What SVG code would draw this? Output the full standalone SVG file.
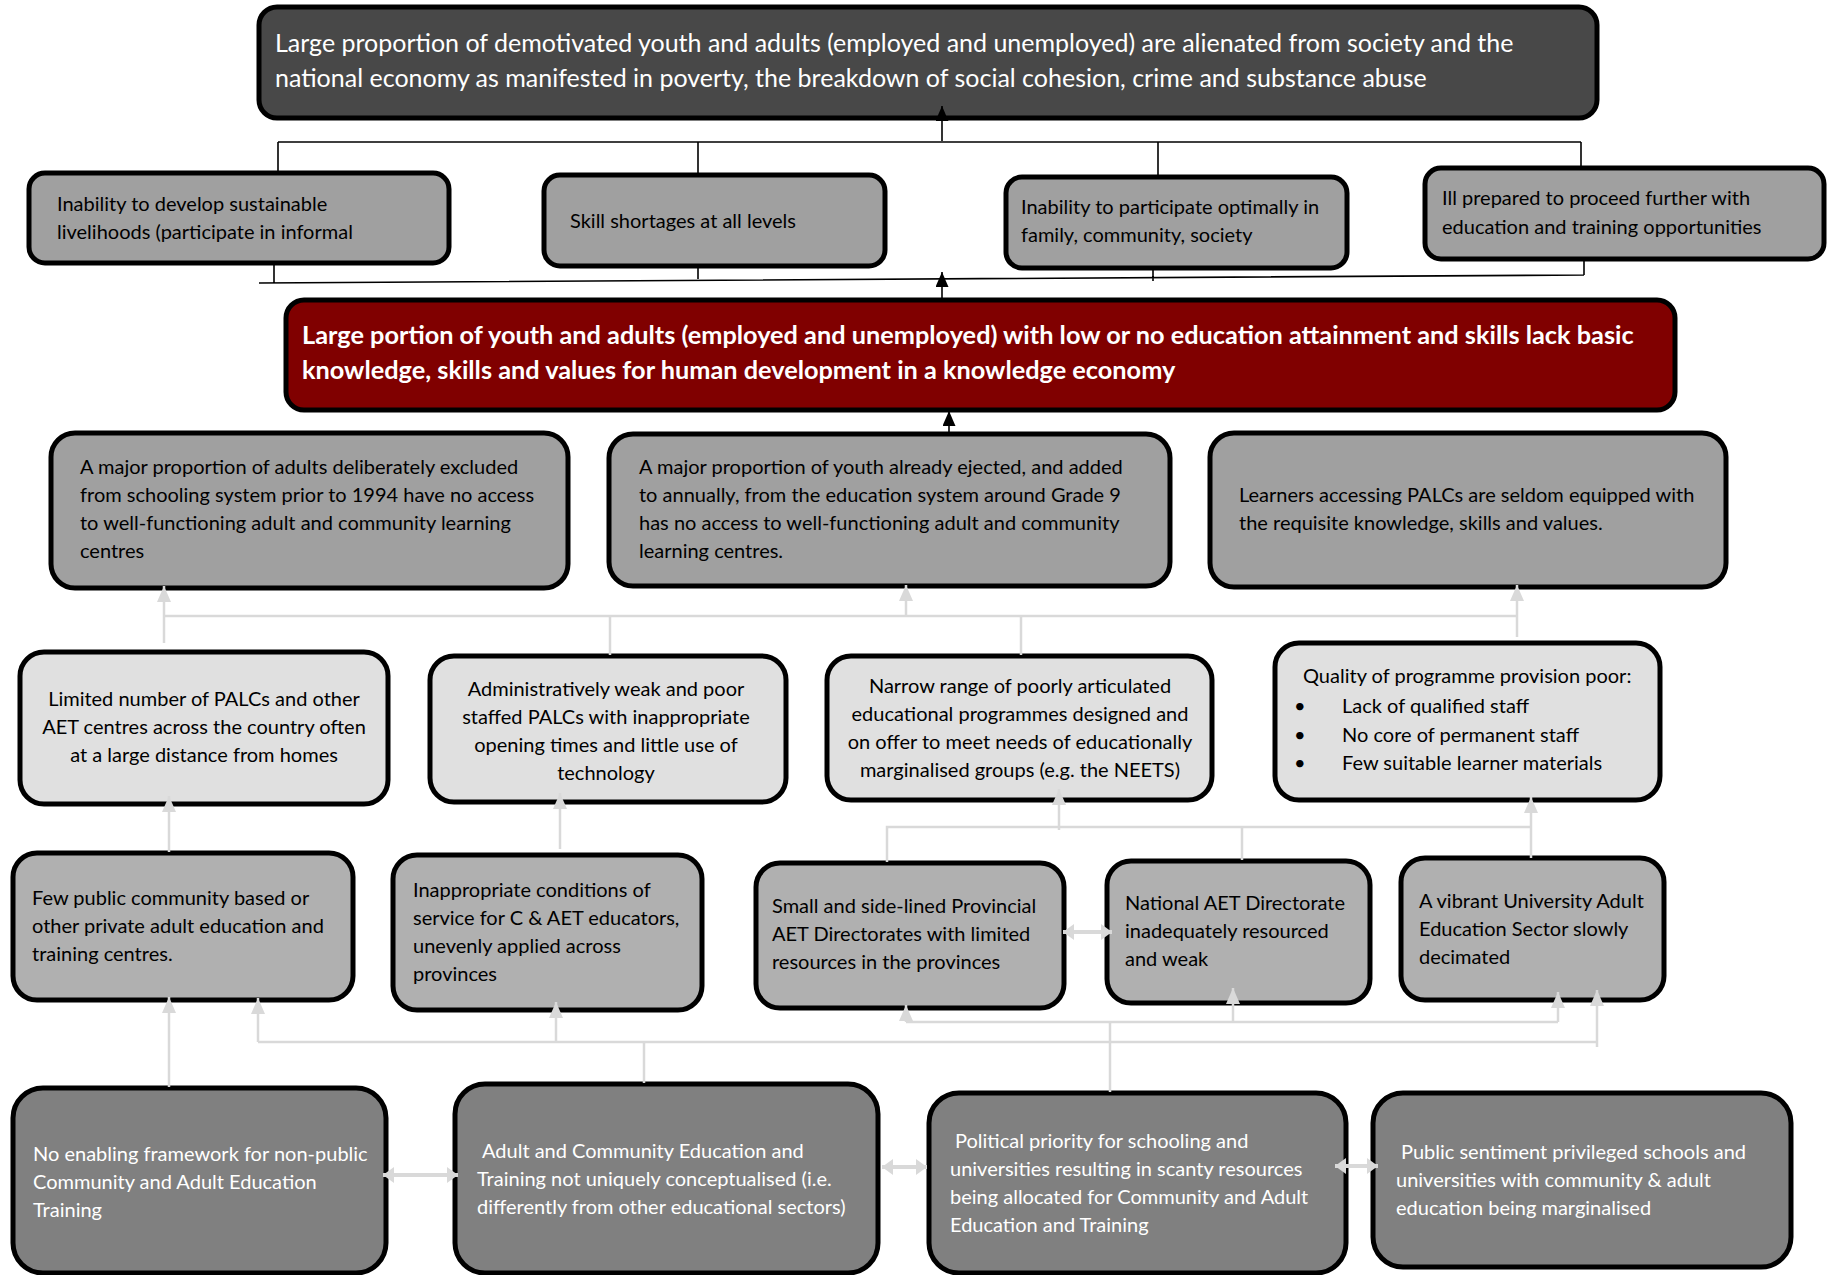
<svg xmlns="http://www.w3.org/2000/svg" width="1828" height="1275" viewBox="0 0 1828 1275">
<style>
.box{stroke:#000;stroke-width:5}
.dk{fill:#484848}.rd{fill:#800000}.g1{fill:#a0a0a0}.g2{fill:#e0e0e0}.g3{fill:#b0b0b0}.g4{fill:#808080}
text{font-family:Lato,"Liberation Sans",sans-serif;font-size:20px;fill:#000}
.w{fill:#fff}
.t1{font-size:25px}
.b{font-size:25.3px;font-weight:bold}
.c{text-anchor:middle}
.bl{stroke:#000;stroke-width:1.6;fill:none}
.gl{stroke:#d9d9d9;stroke-width:2.5;fill:none}
.dbl{stroke:#d9d9d9;stroke-width:4;fill:none}
</style>
<defs>
<marker id="ab" viewBox="0 0 15 13" refX="15" refY="6.5" markerWidth="15" markerHeight="13" markerUnits="userSpaceOnUse" orient="auto"><path d="M0,0L15,6.5L0,13z" fill="#000"/></marker>
<marker id="ag" viewBox="0 0 16 14" refX="16" refY="7" markerWidth="16" markerHeight="14" markerUnits="userSpaceOnUse" orient="auto"><path d="M0,0L16,7L0,14z" fill="#d9d9d9"/></marker>
<marker id="ad" viewBox="0 0 11 16" refX="11" refY="8" markerWidth="11" markerHeight="16" markerUnits="userSpaceOnUse" orient="auto-start-reverse"><path d="M0,0L11,8L0,16z" fill="#d9d9d9"/></marker>
</defs>

<g id="n-top"><rect class="box dk" x="259" y="7" width="1338" height="111" rx="18"/>
<text class="w t1" x="275" y="52">Large proportion of demotivated youth and adults (employed and unemployed) are alienated from society and the</text>
<text class="w t1" x="275" y="87">national economy as manifested in poverty, the breakdown of social cohesion, crime and substance abuse</text></g>

<g id="n-a"><rect class="box g1" x="29" y="173" width="420" height="90" rx="16"/>
<text x="57" y="211">Inability to develop sustainable</text><text x="57" y="239">livelihoods (participate in informal</text></g>
<g id="n-b"><rect class="box g1" x="544" y="175" width="341" height="91" rx="16"/>
<text x="570" y="228">Skill shortages at all levels</text></g>
<g id="n-c"><rect class="box g1" x="1006" y="177" width="341" height="91" rx="16"/>
<text x="1021" y="214">Inability to participate optimally in</text><text x="1021" y="242">family, community, society</text></g>
<g id="n-d"><rect class="box g1" x="1425" y="168" width="399" height="91" rx="16"/>
<text x="1442" y="205">Ill prepared to proceed further with</text><text x="1442" y="234">education and training opportunities</text></g>

<g id="n-core"><rect class="box rd" x="286" y="300" width="1389" height="110" rx="18"/>
<text class="w b" x="302" y="344">Large portion of youth and adults (employed and unemployed) with low or no education attainment and skills lack basic</text>
<text class="w b" x="302" y="379">knowledge, skills and values for human development in a knowledge economy</text></g>

<g id="n-e"><rect class="box g1" x="51" y="433" width="517" height="155" rx="24"/>
<text x="80" y="474">A major proportion of adults deliberately excluded</text><text x="80" y="502">from schooling system prior to 1994 have no access</text><text x="80" y="530">to well-functioning adult and community learning</text><text x="80" y="558">centres</text></g>
<g id="n-f"><rect class="box g1" x="609" y="434" width="561" height="152" rx="24"/>
<text x="639" y="474">A major proportion of youth already ejected, and added</text><text x="639" y="502">to annually, from the education system around Grade 9</text><text x="639" y="530">has no access to well-functioning adult and community</text><text x="639" y="558">learning centres.</text></g>
<g id="n-g"><rect class="box g1" x="1210" y="433" width="516" height="154" rx="24"/>
<text x="1239" y="502">Learners accessing PALCs are seldom equipped with</text><text x="1239" y="530">the requisite knowledge, skills and values.</text></g>

<g id="n-h"><rect class="box g2" x="20" y="652" width="368" height="152" rx="24"/>
<text class="c" x="204" y="706">Limited number of PALCs and other</text><text class="c" x="204" y="734">AET centres across the country often</text><text class="c" x="204" y="762">at a large distance from homes</text></g>
<g id="n-i"><rect class="box g2" x="430" y="656" width="356" height="146" rx="24"/>
<text class="c" x="606" y="696">Administratively weak and poor</text><text class="c" x="606" y="724">staffed PALCs with inappropriate</text><text class="c" x="606" y="752">opening times and little use of</text><text class="c" x="606" y="780">technology</text></g>
<g id="n-j"><rect class="box g2" x="827" y="656" width="385" height="144" rx="24"/>
<text class="c" x="1020" y="693">Narrow range of poorly articulated</text><text class="c" x="1020" y="721">educational programmes designed and</text><text class="c" x="1020" y="749">on offer to meet needs of educationally</text><text class="c" x="1020" y="777">marginalised groups (e.g. the NEETS)</text></g>
<g id="n-k"><rect class="box g2" x="1275" y="643" width="385" height="157" rx="24"/>
<text x="1303" y="683">Quality of programme provision poor:</text>
<text x="1294" y="713">•</text><text x="1342" y="713">Lack of qualified staff</text>
<text x="1294" y="742">•</text><text x="1342" y="742">No core of permanent staff</text>
<text x="1294" y="770">•</text><text x="1342" y="770">Few suitable learner materials</text></g>

<g id="n-l"><rect class="box g3" x="13" y="853" width="340" height="147" rx="24"/>
<text x="32" y="905">Few public community based or</text><text x="32" y="933">other private adult education and</text><text x="32" y="961">training centres.</text></g>
<g id="n-m"><rect class="box g3" x="393" y="855" width="309" height="155" rx="24"/>
<text x="413" y="897">Inappropriate conditions of</text><text x="413" y="925">service for C &amp; AET educators,</text><text x="413" y="953">unevenly applied across</text><text x="413" y="981">provinces</text></g>
<g id="n-n"><rect class="box g3" x="756" y="863" width="308" height="145" rx="24"/>
<text x="772" y="913">Small and side-lined Provincial</text><text x="772" y="941">AET Directorates with limited</text><text x="772" y="969">resources in the provinces</text></g>
<g id="n-o"><rect class="box g3" x="1107" y="861" width="263" height="142" rx="24"/>
<text x="1125" y="910">National AET Directorate</text><text x="1125" y="938">inadequately resourced</text><text x="1125" y="966">and weak</text></g>
<g id="n-p"><rect class="box g3" x="1401" y="858" width="263" height="142" rx="24"/>
<text x="1419" y="908">A vibrant University Adult</text><text x="1419" y="936">Education Sector slowly</text><text x="1419" y="964">decimated</text></g>

<g id="n-q"><rect class="box g4" x="13" y="1088" width="373" height="185" rx="30"/>
<text class="w" x="33" y="1161">No enabling framework for non-public</text><text class="w" x="33" y="1189">Community and Adult Education</text><text class="w" x="33" y="1217">Training</text></g>
<g id="n-r"><rect class="box g4" x="455" y="1084" width="423" height="189" rx="30"/>
<text class="w" x="482" y="1158">Adult and Community Education and</text><text class="w" x="477" y="1186">Training not uniquely conceptualised (i.e.</text><text class="w" x="477" y="1214">differently from other educational sectors)</text></g>
<g id="n-s"><rect class="box g4" x="929" y="1093" width="417" height="180" rx="30"/>
<text class="w" x="955" y="1148">Political priority for schooling and</text><text class="w" x="950" y="1176">universities resulting in scanty resources</text><text class="w" x="950" y="1204">being allocated for Community and Adult</text><text class="w" x="950" y="1232">Education and Training</text></g>
<g id="n-t"><rect class="box g4" x="1373" y="1093" width="418" height="174" rx="30"/>
<text class="w" x="1401" y="1159">Public sentiment privileged schools and</text><text class="w" x="1396" y="1187">universities with community &amp; adult</text><text class="w" x="1396" y="1215">education being marginalised</text></g>

<g id="connectors">
<path class="bl" d="M278,142H1581M278,142V173M698,142V175M1158,142V177M1581,142V168"/>
<path class="bl" d="M942,141V106" marker-end="url(#ab)"/>
<path class="bl" d="M274,263V283M698,266V279M1153,268V281M1584,259V275M259,283L1584,275"/>
<path class="bl" d="M942,299V272" marker-end="url(#ab)"/>
<path class="bl" d="M949,433V411" marker-end="url(#ab)"/>
<path class="gl" d="M164,616H1517M610,616V655M1021,616V655"/>
<path class="gl" d="M164,643V586" marker-end="url(#ag)"/>
<path class="gl" d="M906,616V585" marker-end="url(#ag)"/>
<path class="gl" d="M1517,637V585" marker-end="url(#ag)"/>
<path class="gl" d="M169,852V796" marker-end="url(#ag)"/>
<path class="gl" d="M560,849V793" marker-end="url(#ag)"/>
<path class="gl" d="M887,862V827H1531M1242,827V860"/>
<path class="gl" d="M1059,830V789" marker-end="url(#ag)"/>
<path class="gl" d="M1531,858V797" marker-end="url(#ag)"/>
<path class="dbl" d="M1063,932H1112" marker-start="url(#ad)" marker-end="url(#ad)"/>
<path class="gl" d="M169,1087V997" marker-end="url(#ag)"/>
<path class="gl" d="M258,1042H1597M644,1042V1083"/>
<path class="gl" d="M258,1042V998" marker-end="url(#ag)"/>
<path class="gl" d="M556,1042V1002" marker-end="url(#ag)"/>
<path class="gl" d="M1597,1047V990" marker-end="url(#ag)"/>
<path class="gl" d="M906,1022H1558M1110,1022V1092"/>
<path class="gl" d="M906,1022V1005" marker-end="url(#ag)"/>
<path class="gl" d="M1233,1022V988" marker-end="url(#ag)"/>
<path class="gl" d="M1558,1022V992" marker-end="url(#ag)"/>
<path class="dbl" d="M383,1175H458" marker-start="url(#ad)" marker-end="url(#ad)"/>
<path class="dbl" d="M882,1167H927" marker-start="url(#ad)" marker-end="url(#ad)"/>
<path class="dbl" d="M1335,1166H1378" marker-start="url(#ad)" marker-end="url(#ad)"/>
</g>
</svg>
